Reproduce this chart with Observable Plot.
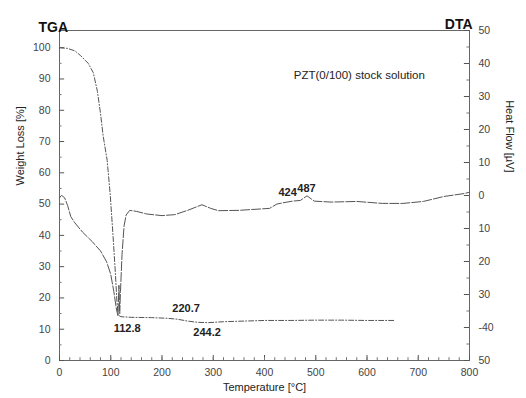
<!DOCTYPE html>
<html><head><meta charset="utf-8">
<script src="https://cdn.jsdelivr.net/npm/d3@7"></script>
<script src="https://cdn.jsdelivr.net/npm/@observablehq/plot@0.6"></script>
<style>body{margin:0;background:#fff}</style>
</head><body><div id="chart"></div>
<script>
// TGA: weight (%) vs temperature (°C)
const tgaTemp   = [0, 15, 30, 41, 56, 66, 74, 80, 85, 93, 99, 104, 109, 112, 114.5, 120, 140, 180, 210, 230, 250, 270, 290, 320, 360, 400, 450, 500, 550, 600, 655];
const tgaWeight = [100, 99.8, 99, 97.5, 95, 92, 86, 79, 72, 64, 53, 41, 28, 19, 14.5, 14, 13.8, 13.7, 13.5, 13.2, 12.6, 12.2, 12.1, 12.4, 12.6, 12.8, 12.8, 12.9, 12.9, 12.8, 12.8];
// DTA: heat flow (µV) vs temperature (°C)
const dtaTemp = [0, 4, 10, 16, 22, 30, 45, 64, 80, 92, 100, 106, 111, 114, 116, 117.5, 119, 122, 126, 130, 137, 150, 170, 200, 225, 250, 278, 295, 310, 350, 410, 424, 440, 455, 470, 483, 497, 530, 580, 630, 670, 710, 750, 790, 800];
const dtaHeat = [-0.7, 0.05, -0.7, -3.1, -6.4, -8.3, -11.1, -14, -16.8, -20.1, -23.9, -29.1, -34.4, -36.4, -27.2, -35.8, -29.1, -17.8, -9.2, -5.9, -4.5, -4.8, -5.6, -6.1, -5.8, -4.5, -2.8, -3.9, -4.6, -4.5, -3.9, -2.6, -2.1, -1.7, -1.5, -0.1, -1.7, -2.0, -1.8, -2.4, -2.4, -1.8, -0.3, 0.6, 1.0];

const xTicks = [0, 100, 200, 300, 400, 500, 600, 700, 800];
const leftTicks = [0, 10, 20, 30, 40, 50, 60, 70, 80, 90, 100];
const rightTickValues = [50, 40, 30, 20, 10, 0, -10, -20, -30, -40, -50];
const rightTickLabels = ["50", "40", "30", "20", "10", "0", "10", "20", "30", "-40", "50"];
const peakLabels = ["112.8", "220.7", "244.2", "424", "487"];
const peakLabelTemp = [132, 247, 288, 445, 482];
const peakLabelWeight = [10.2, 16.6, 9.0, 53.7, 55];

const W_MAX = 105.5;
const heatToWeight = h => (h + 50) * W_MAX / 100;

const tga = tgaTemp.map((t, i) => ({t, w: tgaWeight[i]}));
const dta = dtaTemp.map((t, i) => ({t, h: dtaHeat[i]}));
const rightTicks = rightTickValues.map((v, i) => ({v, label: rightTickLabels[i]}));
const rightMinor = d3.range(-45, 50, 10);
const peaks = peakLabels.map((s, i) => ({s, t: peakLabelTemp[i], w: peakLabelWeight[i]}));

const chart = Plot.plot({
  width: 526,
  height: 398,
  marginLeft: 59,
  marginRight: 57,
  marginTop: 30,
  marginBottom: 38,
  style: {fontFamily: "Liberation Sans, Arial, sans-serif", background: "#fff"},
  x: {domain: [0, 800]},
  y: {domain: [0, W_MAX]},
  marks: [
    Plot.frame({stroke: "#666", strokeWidth: 1}),
    // inward ticks
    Plot.ruleY(leftTicks, {y: d => d, x1: 0, x2: 10, stroke: "#555"}),
    Plot.ruleY(d3.range(5, 101, 10), {y: d => d, x1: 0, x2: 5, stroke: "#777"}),
    Plot.ruleY(rightTickValues, {y: d => heatToWeight(d), x1: 790, x2: 800, stroke: "#555"}),
    Plot.ruleY(rightMinor, {y: d => heatToWeight(d), x1: 795, x2: 800, stroke: "#777"}),
    Plot.ruleX(xTicks, {x: d => d, y1: 0, y2: 1.6, stroke: "#555"}),
    Plot.ruleX(d3.range(20, 800, 20), {x: d => d, y1: 0, y2: 0.9, stroke: "#777"}),
    Plot.axisX({ticks: xTicks, tickSize: 0, tickPadding: 8, label: null, fontSize: 10.5, color: "#444"}),
    Plot.axisY({ticks: leftTicks, tickSize: 0, tickPadding: 9, label: null, fontSize: 10.5, color: "#444"}),
    Plot.text(rightTicks, {x: 800, y: d => heatToWeight(d.v), text: "label", dx: 9, textAnchor: "start", fontSize: 10.5, fill: "#444"}),
    // curves
    Plot.line(tga, {x: "t", y: "w", stroke: "#555", strokeWidth: 1, strokeDasharray: "5,2,1,2"}),
    Plot.line(dta, {x: "t", y: d => heatToWeight(d.h), stroke: "#555", strokeWidth: 1, strokeDasharray: "9,2"}),
    // annotations
    Plot.text(peaks, {x: "t", y: "w", text: "s", fontSize: 11, fill: "#222", fontWeight: "bold"}),
    Plot.text(["PZT(0/100) stock solution"], {x: 585, y: 91.3, text: d => d, fontSize: 11.5, fill: "#222"}),
    Plot.text(["TGA"], {frameAnchor: "top-left", dx: -21, dy: -8, text: d => d, fontSize: 14, fontWeight: "bold", fill: "#111", textAnchor: "start"}),
    Plot.text(["DTA"], {frameAnchor: "top-right", dx: 3, dy: -11, text: d => d, fontSize: 14, fontWeight: "bold", fill: "#111", textAnchor: "end"}),
    Plot.text(["Weight Loss [%]"], {frameAnchor: "left", dx: -39, dy: -10, rotate: -90, text: d => d, fontSize: 11, fill: "#222"}),
    Plot.text(["Heat Flow [\u00b5V]"], {frameAnchor: "right", dx: 40, dy: -23, rotate: 90, text: d => d, fontSize: 11, fill: "#222"}),
    Plot.text(["Temperature [\u00b0C]"], {frameAnchor: "bottom", dy: 30, text: d => d, fontSize: 11, fill: "#222"})
  ]
});
document.getElementById("chart").appendChild(chart);
</script>
</body></html>
